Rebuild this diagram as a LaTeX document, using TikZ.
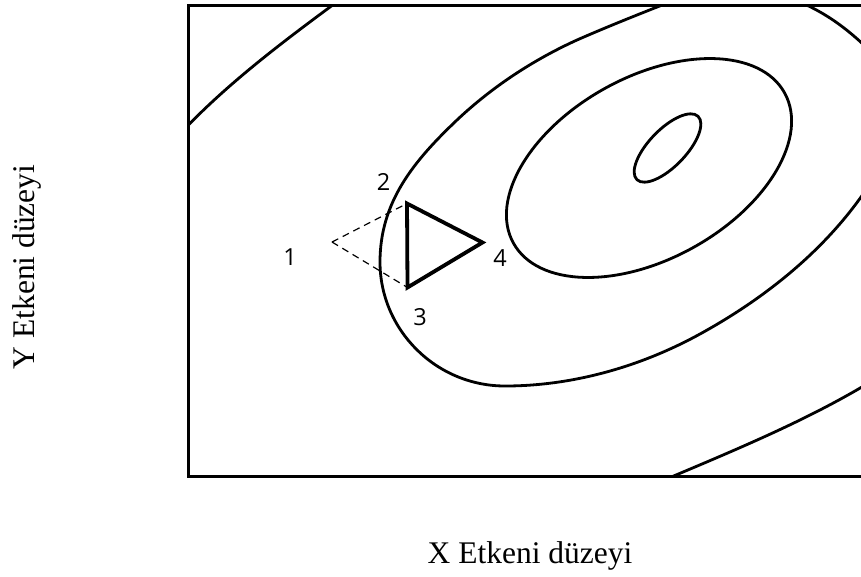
\documentclass[tikz,border=0pt]{standalone}
\usepackage{fontspec}
\setmainfont{Liberation Serif}
\newfontfamily\digitfont{Open Sans}
\begin{document}
\begin{tikzpicture}[x=1pt,y=-1pt,
  contour/.style={line width=2.8pt, line cap=round},
  frame/.style={line width=3pt},
  tri/.style={line width=3.8pt, line join=miter},
  dashline/.style={line width=1.2pt, dash pattern=on 7pt off 5pt},
  axislabel/.style={font=\fontsize{31.5}{36}\selectfont, inner sep=0pt},
  ptlabel/.style={font=\digitfont\fontsize{23.5}{26}\selectfont, inner sep=0pt}]
\useasboundingbox (0,0) rectangle (861,576);
% frame corners
\coordinate (ftr) at (866,5.5);
\coordinate (ftl) at (188,5.5);
\coordinate (fbl) at (188,476);
\coordinate (fbr) at (866,476);
% contours, clipped to the frame
\begin{scope}
  \clip (ftl) rectangle (fbr);
  % outer contour pieces
  \draw[contour] (178,136) .. controls (225,85) and (285,40) .. (345,-4);
  \draw[contour] (795,0) .. controls (820,10) and (845,25) .. (875,56);
  \draw[contour] (650,486) .. controls (730,452) and (810,420) .. (880,376);
  % second contour
  \draw[contour] (700,-10) .. controls (660,6) and (618,22) .. (577,40)
    .. controls (533,60) and (492,87) .. (457,120)
    .. controls (413.5,161.3) and (380,202) .. (380,262)
    .. controls (380,330) and (436,386) .. (505,386)
    .. controls (572,386) and (640,367) .. (700,334)
    .. controls (762.6,299.6) and (820.3,254) .. (861,197)
    -- (880,170);
  % inner contours
  \draw[contour, rotate around={29:(649,168)}] (649,168) ellipse [x radius=155pt, y radius=91pt];
  \draw[contour, rotate around={46:(667.5,148)}] (667.5,148) ellipse [x radius=44pt, y radius=18.5pt];
\end{scope}
\draw[frame] (ftr) -- (ftl) -- (fbl) -- (fbr);
% simplex points
\coordinate (p1) at (332,242);
\coordinate (p2) at (407,203.5);
\coordinate (p3) at (407.5,287.5);
\coordinate (p4) at (482.5,242.5);
\draw[dashline] (p1) -- (p2);
\draw[dashline] (p1) -- (p3);
\draw[tri] (p2) -- (p4) -- (p3) -- cycle;
% labels
\node[ptlabel] (l1) at (290,257) {1};
\node[ptlabel] (l2) at (383.5,182) {2};
\node[ptlabel] (l3) at (420,317) {3};
\node[ptlabel] (l4) at (500,258.5) {4};
\node[axislabel] (xl) at (530,556) {X Etkeni düzeyi};
\node[axislabel, rotate=90] (yl) at (27,267) {Y Etkeni düzeyi};
\end{tikzpicture}
\end{document}
